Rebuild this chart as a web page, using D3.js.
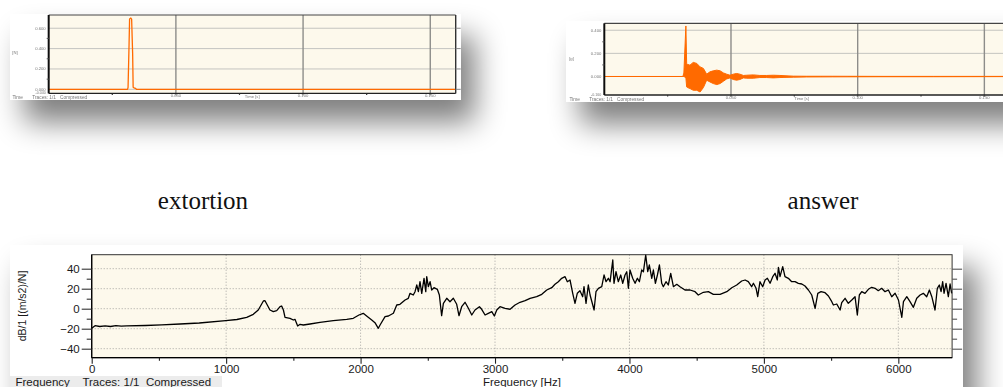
<!DOCTYPE html>
<html>
<head>
<meta charset="utf-8">
<script src="https://cdn.jsdelivr.net/npm/d3@7/dist/d3.min.js"></script>
<style>
  html, body { margin: 0; padding: 0; background: #fff; overflow: hidden; }
  svg { display: block; }
</style>
</head>
<body>
<svg id="chart" width="1003" height="387"></svg>
<script>
// ---------- Frequency response function (bottom chart) ----------
const freqHz = [0,25,60,100,140,180,220,260,400,520,657,800,997,1080,1153,1202,1239,1277,1289,1326,1351,1376,1401,1413,1426,1438,1475,1500,1512,1532,1550,1574,1624,1698,1797,1897,1946,1988,2020,2045,2083,2107,2132,2145,2182,2207,2244,2269,2293,2331,2355,2368,2392,2405,2418,2430,2442,2455,2472,2485,2492,2504,2517,2529,2546,2571,2586,2603,2616,2641,2665,2690,2715,2732,2752,2777,2802,2827,2851,2884,2901,2926,2950,2976,2995,3013,3037,3075,3112,3149,3186,3224,3261,3310,3348,3385,3422,3446,3471,3496,3521,3538,3558,3578,3595,3612,3632,3652,3662,3677,3694,3707,3727,3737,3751,3769,3794,3811,3826,3843,3856,3876,3885,3900,3917,3935,3950,3967,3980,3992,4004,4024,4042,4059,4074,4091,4104,4121,4136,4148,4166,4178,4193,4208,4223,4240,4252,4272,4289,4307,4327,4352,4376,4413,4451,4488,4512,4550,4587,4624,4674,4724,4761,4798,4835,4860,4884,4909,4922,4942,4954,4971,4991,5009,5026,5046,5066,5083,5100,5108,5120,5140,5157,5182,5207,5232,5256,5282,5306,5331,5356,5381,5401,5425,5455,5480,5505,5517,5542,5567,5579,5604,5628,5654,5678,5695,5710,5728,5752,5777,5802,5827,5851,5876,5901,5926,5951,5976,6001,6026,6038,6063,6087,6112,6137,6162,6186,6211,6231,6249,6273,6290,6305,6318,6330,6340,6355,6372,6385,6397];
const frfDb = [-19.5,-17,-17.8,-17.2,-17.8,-17,-17.5,-17.2,-16.8,-16.2,-15.3,-14.3,-12,-10.8,-8.6,-5.6,-1.3,7.7,8,-1.3,-3,-2,2,2.7,-1.3,-8.6,-9.6,-11.3,-10.6,-17.3,-15.6,-16.3,-15.3,-13.6,-12,-10.6,-9.6,-6.3,-4.6,-7.3,-11.3,-14,-19.6,-16.3,-8,-7.3,-4.6,3.7,4.4,8.7,10.4,15.4,13.7,17,23.7,17,27,15.4,30.4,17,32,22,27,18.7,21,19.4,13.7,-7,5.4,10.4,7,10.4,4.4,-7,2,6.4,0.4,-6.3,-1.3,2,-0.6,-6.3,-4.6,-3,-7.3,-1.3,2,0.4,-0.6,3.7,6.4,8,10.4,12,14.4,18.7,21,24.4,27,30.4,32,27,28.7,15.4,5.4,15.4,18,12,22,5.4,23.7,13.7,3.7,-1.3,17,20.4,22,33.7,27,30.4,27,48.7,25.4,37,27,33.7,25.4,33.7,37,20.4,38.7,30.4,25.4,30.4,27,38.7,37,53.7,37,43.7,30.4,38.7,25.4,33.7,43.7,25.4,22,27,23.7,35.4,22,24.4,22,18.7,18.7,17,13.7,16.4,17,14.4,14.4,17,21,23.7,27.7,28.7,27,22,25.4,20.4,12,27,22,28.7,30.4,25.4,32,35.4,28.7,41.4,32,42,32,30.4,27,27,25.4,24.7,22.7,18.7,13.7,0.3,15.4,17,16,12.7,7,3.7,4.7,-1.3,6,10.4,5.4,8.7,12,-6.3,13.7,17,15.4,19.4,21.4,20.4,18,20.4,17,18.7,12,15.4,8.7,-8.6,7,12,7,1.4,10.4,13.7,15.4,12,18.7,12,-1.3,20.4,23.7,17,27,15.4,25.4,12,24.7,15.4];
const freqTicks = [0, 1000, 2000, 3000, 4000, 5000, 6000];
const freqMinorTicks = [500, 1500, 2500, 3500, 4500, 5500];
const dbTicks = [-40, -20, 0, 20, 40];
const dbMinorTicks = [-30, -10, 10, 30];

// ---------- Excitation force (top left) ----------
const forceTime  = [0, 0.0310, 0.0312, 0.0316, 0.0318, 0.0323, 0.0326, 0.0330, 0.0332, 0.0336, 0.0340, 0.0345, 0.16];
const forceValue = [0, 0, 0.02, 0.45, 0.69, 0.70, 0.69, 0.35, 0.02, 0.012, 0.012, 0, 0];
const forceTicks = [0, 0.2, 0.4, 0.6];
const forceTickLabels = ["0.000", "0.200", "0.400", "0.600"];

// ---------- Response, compressed min/max envelope (top right) ----------
const respTime = [0,0.0310,0.0314,0.0322,0.0325,0.0328,0.0338,0.0351,0.0365,0.0378,0.0391,0.0404,0.0417,0.0430,0.0444,0.0457,0.0470,0.0483,0.0496,0.0509,0.0522,0.0535,0.0549,0.0562,0.0588,0.0614,0.0641,0.0667,0.0693,0.0746,0.0799,0.0900,0.1100,0.1300,0.1600];
const respMax  = [0,0,0.030,0.437,0.113,0.105,0.098,0.122,0.113,0.083,0.070,0.020,0.040,0.049,0.055,0.049,0.031,0.020,0.011,0.020,0.026,0.020,0.009,0.011,0.014,0.009,0.009,0.011,0.009,0.003,0.002,0.002,0.001,0.001,0.001];
const respMin  = [0,0,0,-0.010,-0.090,-0.095,-0.104,-0.119,-0.119,-0.134,-0.096,-0.032,-0.047,-0.061,-0.070,-0.061,-0.041,-0.021,-0.012,-0.026,-0.032,-0.026,-0.012,-0.015,-0.015,-0.009,-0.009,-0.012,-0.009,-0.006,-0.004,-0.003,-0.002,-0.002,-0.001];
const respTicks = [0, 0.2, 0.4];
const respTickLabels = ["0.000", "0.200", "0.400"];

const timeTicks = [0.05, 0.10, 0.15];
const timeTickLabels = ["0.050", "0.100", "0.150"];
const timeMinorTicks = [0.025, 0.075, 0.125];

// ---------- drawing ----------
const svg = d3.select("#chart");
const defs = svg.append("defs");
const shadowF = defs.append("filter").attr("id", "shadowBlur")
  .attr("x", "-40%").attr("y", "-120%").attr("width", "180%").attr("height", "340%");
shadowF.append("feGaussianBlur").attr("stdDeviation", 15);
const softF = defs.append("filter").attr("id", "soft")
  .attr("x", "-5%").attr("y", "-5%").attr("width", "110%").attr("height", "110%");
softF.append("feGaussianBlur").attr("stdDeviation", 0.45);

const CREAM = "#fdf9ec";
const ORANGE = "#ff6a00";
const SANS = "'Liberation Sans', Arial, sans-serif";

// card shadows first, then the cards themselves
const cards = [
  {x: 10, y: 14, w: 451, h: 86},
  {x: 566, y: 21, w: 460, h: 81},
  {x: 10, y: 245, w: 953, h: 160}
];
cards.forEach(c => {
  svg.append("rect").attr("x", c.x + 14).attr("y", c.y + 22)
    .attr("width", c.w).attr("height", c.h)
    .attr("fill", "#000").attr("opacity", 0.5)
    .attr("filter", "url(#shadowBlur)");
});
cards.forEach(c => {
  svg.append("rect").attr("x", c.x).attr("y", c.y)
    .attr("width", c.w).attr("height", c.h).attr("fill", "#fff");
});

// ---------- time panel helper ----------
function timePanel(o) {
  const g = svg.append("g").attr("filter", "url(#soft)");
  const x = d3.scaleLinear().domain([0, 0.16]).range([o.left, o.right]);
  const y = d3.scaleLinear().domain(o.yDomain).range([o.bottom, o.top]);

  g.append("rect").attr("x", o.left).attr("y", o.top)
    .attr("width", o.right - o.left).attr("height", o.bottom - o.top)
    .attr("fill", CREAM);

  // horizontal grid
  g.append("g").selectAll("line").data(o.yTicks).join("line")
    .attr("x1", o.left).attr("x2", o.right)
    .attr("y1", d => y(d)).attr("y2", d => y(d))
    .attr("stroke", "#c4c4c0").attr("stroke-width", 1);
  // vertical grid
  g.append("g").selectAll("line").data(timeTicks).join("line")
    .attr("x1", d => x(d)).attr("x2", d => x(d))
    .attr("y1", o.top).attr("y2", o.bottom + 2)
    .attr("stroke", "#8d8d8a").attr("stroke-width", 1.4);

  // trace
  o.drawTrace(g, x, y);

  // frame
  g.append("line").attr("x1", o.left).attr("x2", o.right).attr("y1", o.top).attr("y2", o.top)
    .attr("stroke", "#444").attr("stroke-width", 1.2);
  g.append("line").attr("x1", o.left).attr("x2", o.right).attr("y1", o.bottom).attr("y2", o.bottom)
    .attr("stroke", "#222").attr("stroke-width", 1.4);
  g.append("line").attr("x1", o.left).attr("x2", o.left).attr("y1", o.top).attr("y2", o.bottom)
    .attr("stroke", "#111").attr("stroke-width", 2);
  if (o.right <= 1003) {
    g.append("line").attr("x1", o.right).attr("x2", o.right).attr("y1", o.top).attr("y2", o.bottom)
      .attr("stroke", "#333").attr("stroke-width", 1.4);
    // right ticks
    g.append("g").selectAll("line").data(o.yTicks).join("line")
      .attr("x1", o.right).attr("x2", o.right + 5)
      .attr("y1", d => y(d)).attr("y2", d => y(d))
      .attr("stroke", "#888").attr("stroke-width", 1);
  }
  // minor left ticks
  g.append("g").selectAll("line").data(o.yMinor).join("line")
    .attr("x1", o.left - 2).attr("x2", o.left)
    .attr("y1", d => y(d)).attr("y2", d => y(d))
    .attr("stroke", "#555");
  // minor bottom ticks
  g.append("g").selectAll("line").data(timeMinorTicks).join("line")
    .attr("x1", d => x(d)).attr("x2", d => x(d))
    .attr("y1", o.bottom).attr("y2", o.bottom + 1.5)
    .attr("stroke", "#333").attr("stroke-width", 1.2);

  // tiny labels
  const small = g.append("g").attr("font-family", SANS).attr("font-size", 4.2).attr("fill", "#777");
  small.selectAll("text.yl").data(o.yTicks).join("text")
    .attr("x", o.left - 3).attr("y", d => y(d) + 1.4)
    .attr("text-anchor", "end").text((d, i) => o.yLabels[i]);
  small.append("text").attr("x", o.left - 3).attr("y", o.bottom + 1)
    .attr("text-anchor", "end").attr("font-size", 3.6).text(o.cornerLabel);
  small.selectAll("text.xl").data(timeTicks.filter(d => x(d) < 1000)).join("text")
    .attr("x", d => x(d)).attr("y", o.bottom + 3.8)
    .attr("text-anchor", "middle").text((d, i) => timeTickLabels[i]);
  small.append("text").attr("x", (o.left + Math.min(o.right, 1003)) / 2 + o.titleShift).attr("y", o.bottom + 5)
    .attr("text-anchor", "middle").text("Time [s]");
  small.append("text").attr("x", o.footX).attr("y", o.bottom + 5.8).attr("font-size", 4.8)
    .attr("xml:space", "preserve").style("white-space", "pre")
    .text("Time       Traces: 1/1   Compressed");
  small.append("text").attr("x", o.unitX).attr("y", o.unitY)
    .attr("text-anchor", "middle").text(o.unit);
}

// excitation force
timePanel({
  left: 48.7, right: 455.7, top: 15, bottom: 93.4,
  yDomain: [-0.04, 0.73], yTicks: forceTicks, yLabels: forceTickLabels,
  yMinor: [0.1, 0.3, 0.5], cornerLabel: "-0.040",
  unit: "[N]", unitX: 15, unitY: 54, footX: 12.5, titleShift: 0,
  drawTrace: (g, x, y) => {
    const line = d3.line().x((d, i) => x(forceTime[i])).y(d => y(d));
    g.append("path").attr("d", line(forceValue))
      .attr("fill", "none").attr("stroke", ORANGE).attr("stroke-width", 1.3)
      .attr("stroke-linejoin", "round");
  }
});

// measured response
timePanel({
  left: 604.3, right: 1009.7, top: 23.3, bottom: 95,
  yDomain: [-0.16, 0.46], yTicks: respTicks, yLabels: respTickLabels,
  yMinor: [0.1, 0.3], cornerLabel: "-0.160",
  unit: "[g]", unitX: 571.5, unitY: 59.5, footX: 569.5, titleShift: -2,
  drawTrace: (g, x, y) => {
    const idx = d3.range(respTime.length);
    const area = d3.area().x(i => x(respTime[i])).y0(i => y(respMin[i])).y1(i => y(respMax[i]));
    g.append("path").attr("d", area(idx)).attr("fill", ORANGE);
    const hi = d3.line().x(i => x(respTime[i])).y(i => y(respMax[i]));
    const lo = d3.line().x(i => x(respTime[i])).y(i => y(respMin[i]));
    g.append("path").attr("d", hi(idx)).attr("fill", "none").attr("stroke", ORANGE).attr("stroke-width", 1);
    g.append("path").attr("d", lo(idx)).attr("fill", "none").attr("stroke", ORANGE).attr("stroke-width", 1);
  }
});

// captions
svg.append("text").attr("x", 203).attr("y", 209).attr("text-anchor", "middle")
  .attr("font-family", "'Liberation Serif', 'DejaVu Serif', serif").attr("font-size", 25)
  .attr("fill", "#111").text("extortion");
svg.append("text").attr("x", 823).attr("y", 209).attr("text-anchor", "middle")
  .attr("font-family", "'Liberation Serif', 'DejaVu Serif', serif").attr("font-size", 25)
  .attr("fill", "#111").text("answer");

// ---------- bottom FRF chart ----------
const fx = d3.scaleLinear().domain([0, 6400]).range([91.7, 952.1]);
const fy = d3.scaleLinear().domain([-49, 54]).range([357.7, 254.7]);
const L = fx.range()[0], R = fx.range()[1], T = fy.range()[1], B = fy.range()[0];

const fg = svg.append("g");
fg.append("rect").attr("x", L).attr("y", T).attr("width", R - L).attr("height", B - T).attr("fill", CREAM);

// dotted grid
fg.append("g").selectAll("line").data(dbTicks).join("line")
  .attr("x1", L).attr("x2", R).attr("y1", d => fy(d)).attr("y2", d => fy(d))
  .attr("stroke", "#8f8f8f").attr("stroke-width", 0.8).attr("stroke-dasharray", "1,2");
fg.append("g").selectAll("line").data(freqTicks.slice(1)).join("line")
  .attr("x1", d => fx(d)).attr("x2", d => fx(d)).attr("y1", T).attr("y2", B)
  .attr("stroke", "#8f8f8f").attr("stroke-width", 0.8).attr("stroke-dasharray", "1,2");

// FRF trace
const frfLine = d3.line().x((d, i) => fx(freqHz[i])).y(d => fy(d));
fg.append("path").attr("d", frfLine(frfDb))
  .attr("fill", "none").attr("stroke", "#000").attr("stroke-width", 1.3)
  .attr("stroke-linejoin", "round");

// frame
fg.append("rect").attr("x", L).attr("y", T).attr("width", R - L).attr("height", B - T)
  .attr("fill", "none").attr("stroke", "#333").attr("stroke-width", 1);
fg.append("line").attr("x1", L).attr("x2", L).attr("y1", T).attr("y2", B).attr("stroke", "#000").attr("stroke-width", 1.3);
fg.append("line").attr("x1", L).attr("x2", R).attr("y1", B).attr("y2", B).attr("stroke", "#000").attr("stroke-width", 1.3);

function styleAxis(sel, color) {
  sel.select(".domain").remove();
  sel.selectAll(".tick line").attr("stroke", color).attr("stroke-width", 1.1);
  sel.selectAll(".tick text").attr("font-family", SANS).attr("font-size", 11.5).attr("fill", "#1a1a1a");
}

// left axis
fg.append("g").attr("transform", `translate(${L},0)`)
  .call(d3.axisLeft(fy).tickValues(dbTicks).tickSize(10).tickPadding(2).tickFormat(d3.format("d")))
  .call(s => styleAxis(s, "#333"));
fg.append("g").attr("transform", `translate(${L},0)`)
  .call(d3.axisLeft(fy).tickValues(dbMinorTicks).tickSize(5).tickFormat(""))
  .call(s => styleAxis(s, "#333"));
// right axis
fg.append("g").attr("transform", `translate(${R},0)`)
  .call(d3.axisRight(fy).tickValues(dbTicks).tickSize(10).tickFormat(""))
  .call(s => styleAxis(s, "#555"));
fg.append("g").attr("transform", `translate(${R},0)`)
  .call(d3.axisRight(fy).tickValues(dbMinorTicks).tickSize(5).tickFormat(""))
  .call(s => styleAxis(s, "#555"));
// bottom axis
fg.append("g").attr("transform", `translate(0,${B})`)
  .call(d3.axisBottom(fx).tickValues(freqTicks).tickSize(6).tickPadding(1).tickFormat(d3.format("d")))
  .call(s => styleAxis(s, "#222"));
fg.append("g").attr("transform", `translate(0,${B})`)
  .call(d3.axisBottom(fx).tickValues(freqMinorTicks).tickSize(3).tickFormat(""))
  .call(s => styleAxis(s, "#222"));

// titles
fg.append("text").attr("transform", "translate(26,306) rotate(-90)")
  .attr("text-anchor", "middle").attr("font-family", "'Liberation Sans Narrow', " + SANS)
  .attr("font-size", 10.5).attr("fill", "#1a1a1a").text("dB/1 [(m/s2)/N]");
fg.append("text").attr("x", (L + R) / 2).attr("y", 386)
  .attr("text-anchor", "middle").attr("font-family", SANS).attr("font-size", 11.5)
  .attr("fill", "#1a1a1a").text("Frequency [Hz]");
fg.append("rect").attr("x", 10).attr("y", 376).attr("width", 212).attr("height", 11).attr("fill", "#ececec");
fg.append("text").attr("x", 15.5).attr("y", 386)
  .attr("font-family", SANS).attr("font-size", 11.5).attr("fill", "#1a1a1a")
  .attr("xml:space", "preserve").style("white-space", "pre")
  .text("Frequency    Traces: 1/1  Compressed");
</script>
</body>
</html>
